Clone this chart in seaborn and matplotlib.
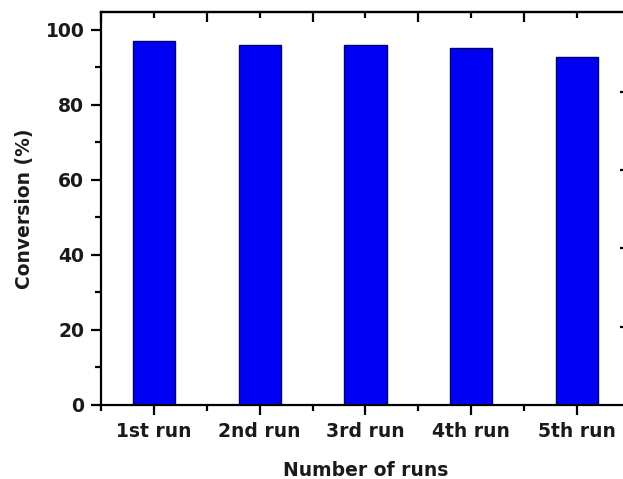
import matplotlib
matplotlib.use("Agg")
import matplotlib.pyplot as plt
from matplotlib.ticker import MultipleLocator, FixedLocator, NullFormatter
import seaborn as sns
import pandas as pd

runs = ["1st run", "2nd run", "3rd run", "4th run", "5th run"]
conversion = [97.1, 96.0, 96.0, 95.1, 92.9]

sns.set_theme(style="white")
plt.rcParams["font.family"] = ["DejaVu Sans"]
plt.rcParams["font.weight"] = "bold"

df = pd.DataFrame({"run": runs, "conversion": conversion})

fig = plt.figure(figsize=(6.23, 4.79), dpi=100)
ax = fig.add_axes([0.1621, 0.1545, 0.849, 0.8205])

sns.barplot(data=df, x="run", y="conversion", color="#0000F2", saturation=1,
            width=0.4, edgecolor="#00006A", linewidth=1.0, ax=ax)

ax.set_xlim(-0.5, len(runs) - 0.5)
ax.set_ylim(0, 104.8)

for s in ax.spines.values():
    s.set_linewidth(1.6)
    s.set_color("black")

ax.yaxis.set_major_locator(MultipleLocator(20))
ax.yaxis.set_minor_locator(MultipleLocator(10))
ax.xaxis.set_minor_locator(FixedLocator([i + 0.5 for i in range(-1, len(runs))]))
ax.tick_params(axis="both", which="major", direction="out", length=7, width=1.6,
               color="black", labelsize=13.5, pad=5, labelcolor="#1a1a1a")
ax.tick_params(axis="both", which="minor", direction="out", length=4, width=1.6,
               color="black")
ax.tick_params(axis="y", which="both", left=True, right=False)
ax.tick_params(axis="x", which="both", bottom=True, top=False)
for lab in ax.get_xticklabels() + ax.get_yticklabels():
    lab.set_fontweight("bold")

ax.set_xlabel("Number of runs", fontsize=13.5, fontweight="bold", labelpad=15,
              color="#1a1a1a")
ax.set_ylabel("Conversion (%)", fontsize=13.5, fontweight="bold", labelpad=8,
              color="#1a1a1a")

# top axis: long ticks between runs, short ticks at each run, pointing inward
top = ax.secondary_xaxis("top")
top.xaxis.set_major_locator(FixedLocator([i + 0.5 for i in range(-1, len(runs))]))
top.xaxis.set_minor_locator(FixedLocator(list(range(len(runs)))))
top.xaxis.set_major_formatter(NullFormatter())
top.tick_params(which="major", direction="in", length=7, width=1.6, color="black")
top.tick_params(which="minor", direction="in", length=4, width=1.6, color="black")
top.spines["top"].set_linewidth(1.6)

# right axis with its own 0-100 scale, ticks pointing inward
right = ax.twinx()
right.set_ylim(0, 100.3)
right.yaxis.set_major_locator(FixedLocator([20, 40, 60, 80]))
right.yaxis.set_major_formatter(NullFormatter())
right.tick_params(axis="y", direction="in", length=7.2, width=1.6, color="black")
right.grid(False)
for s in right.spines.values():
    s.set_visible(False)

fig.savefig("out.png", dpi=100, facecolor="white")
